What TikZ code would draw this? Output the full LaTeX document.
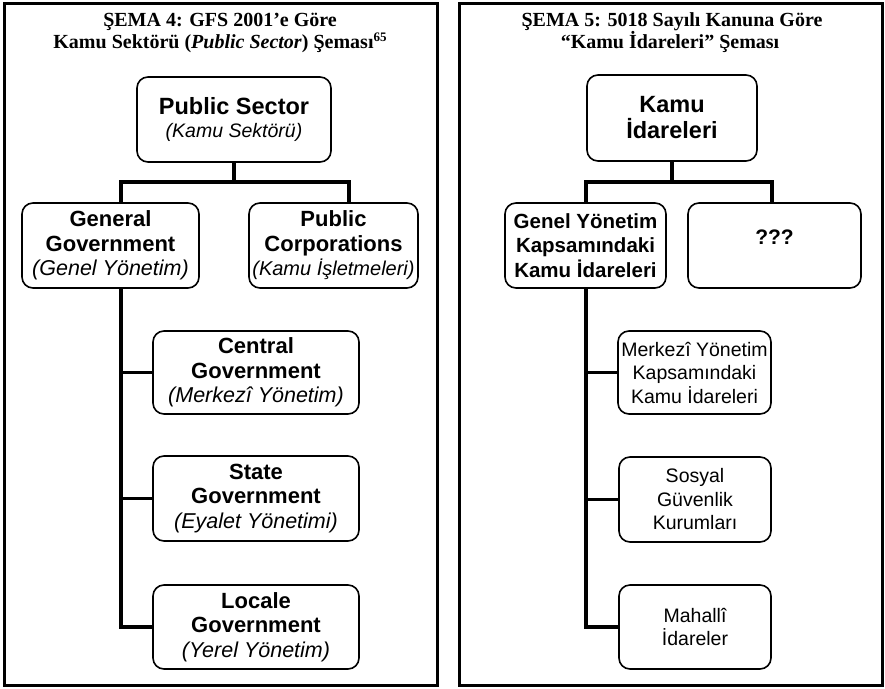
\documentclass[tikz,border=0pt]{standalone}
\usepackage{fontspec}
\setmainfont{Liberation Sans}
\newfontfamily\ttlfont{Liberation Serif}
\usetikzlibrary{backgrounds}
\newcommand{\subit}[1]{{\fontsize{21.5}{24.5}\selectfont\itshape #1}}
\begin{document}
\begin{tikzpicture}[x=1pt,y=-1pt,
  frameline/.style={draw,line width=3pt},
  ttl/.style={anchor=base,inner sep=0pt,font=\ttlfont\fontsize{20}{22}\selectfont\bfseries},
  box/.style={draw,line width=1.6pt,rounded corners=11pt,fill=white,inner sep=0pt,align=center},
  lbox/.style={box,font=\fontsize{22}{24.5}\selectfont},
  rbox/.style={box,font=\fontsize{19.5}{23.5}\selectfont},
  conn/.style={line width=3.5pt},
]
\useasboundingbox (0,0) rectangle (885,688);

% frames
\draw[frameline] (4,3.5) rectangle (437,685.5);
\draw[frameline] (459,3.5) rectangle (882,685.5);

% titles
\node[ttl] (t4a) at (220,27) {ŞEMA 4: GFS 2001’e Göre};
\node[ttl] (t4b) at (220,48) {Kamu Sektörü (\textit{Public Sector}) Şeması\raisebox{6.5pt}{\fontsize{13}{13}\selectfont 65}};
\node[ttl] (t5a) at (672,27) {ŞEMA 5: 5018 Sayılı Kanuna Göre};
\node[ttl] (t5b) at (670,48) {“Kamu İdareleri” Şeması};

% left panel boxes
\node[box,minimum width=194pt,minimum height=85pt,font=\fontsize{23.5}{22.5}\selectfont] (ps) at (234,119.5)
  {\textbf{Public Sector}\\{\fontsize{19.5}{22.5}\selectfont\itshape (Kamu Sektörü)}};
\node[lbox,minimum width=177pt,minimum height=85pt] (gg) at (110.5,245.5)
  {\textbf{General}\\\textbf{Government}\\\subit{(Genel Yönetim)}};
\node[lbox,minimum width=169pt,minimum height=85pt] (pc) at (333.5,245.5)
  {\textbf{Public}\\\textbf{Corporations}\\{\fontsize{20}{24.5}\selectfont\itshape (Kamu İşletmeleri)}};
\node[lbox,minimum width=206pt,minimum height=83pt] (cg) at (256,372.5)
  {\textbf{Central}\\\textbf{Government}\\\subit{(Merkezî Yönetim)}};
\node[lbox,minimum width=206pt,minimum height=85pt] (sg) at (256,498.5)
  {\textbf{State}\\\textbf{Government}\\\subit{(Eyalet Yönetimi)}};
\node[lbox,minimum width=206pt,minimum height=84pt] (lg) at (256,627)
  {\textbf{Locale}\\\textbf{Government}\\\subit{(Yerel Yönetim)}};

% right panel boxes
\node[box,minimum width=170pt,minimum height=86pt,font=\fontsize{23.5}{26}\selectfont\bfseries] (ki) at (672,118)
  {Kamu\\İdareleri};
\node[box,minimum width=161pt,minimum height=85pt,font=\fontsize{20.5}{24.5}\selectfont\bfseries] (gy) at (585.5,245.5)
  {Genel Yönetim\\Kapsamındaki\\Kamu İdareleri};
\node[draw,line width=1.6pt,rounded corners=11pt,fill=white,inner sep=0pt,
  minimum width=173pt,minimum height=85pt,text height=18.5pt,text depth=21.5pt,
  font=\fontsize{21}{25}\selectfont\bfseries] (qq) at (774.5,245.5) {???};
\node[rbox,minimum width=153pt,minimum height=83pt] (mk) at (694.5,372.5)
  {Merkezî Yönetim\\Kapsamındaki\\Kamu İdareleri};
\node[rbox,minimum width=152pt,minimum height=85pt] (sos) at (695,499.5)
  {Sosyal\\Güvenlik\\Kurumları};
\node[rbox,minimum width=152pt,minimum height=84pt] (mh) at (695,627)
  {Mahallî\\İdareler};

% connectors
\coordinate (ldrop) at (234,182);
\coordinate (lspine) at (121,182);
\coordinate (lright) at (349,182);
\coordinate (rdrop) at (672,182);
\coordinate (rspine) at (586,182);
\coordinate (rright) at (772,182);
\begin{scope}[on background layer]
\draw[conn] (ps.south) -- (ldrop);
\draw[conn] (gg.north -| lspine) -- (lspine) -- (lright) -- (pc.north -| lright);
\draw[conn] (gg.south -| lspine) |- (cg.west);
\draw[conn] (gg.south -| lspine) |- (sg.west);
\draw[conn] (gg.south -| lspine) |- (lg.west);
\draw[conn] (ki.south) -- (rdrop);
\draw[conn] (gy.north -| rspine) -- (rspine) -- (rright) -- (qq.north -| rright);
\draw[conn] (gy.south -| rspine) |- (mk.west);
\draw[conn] (gy.south -| rspine) |- (sos.west);
\draw[conn] (gy.south -| rspine) |- (mh.west);
\end{scope}
\end{tikzpicture}
\end{document}
